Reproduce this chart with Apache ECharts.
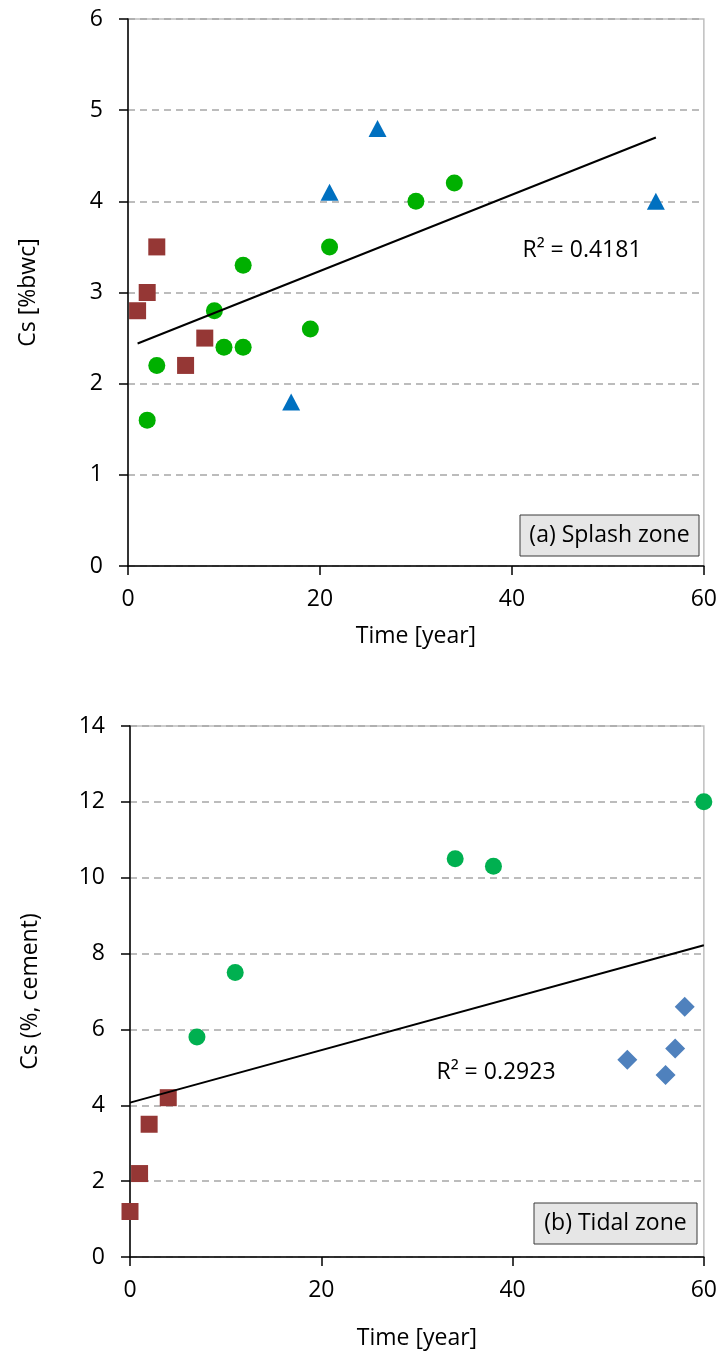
<!DOCTYPE html>
<html>
<head>
<meta charset="utf-8">
<script src="https://cdn.jsdelivr.net/npm/echarts@6/dist/echarts.min.js"></script>
<style>
html,body{margin:0;padding:0;background:#fff;}
#c{width:720px;height:1356px;}
</style>
</head>
<body>
<div id="c"></div>
<script>
// ---- Data: (a) Splash zone ----
const splashSquareX = [1, 2, 3, 6, 8];
const splashSquareY = [2.8, 3.0, 3.5, 2.2, 2.5];
const splashCircleX = [2, 3, 9, 10, 12, 12, 19, 21, 30, 34];
const splashCircleY = [1.6, 2.2, 2.8, 2.4, 2.4, 3.3, 2.6, 3.5, 4.0, 4.2];
const splashTriX = [17, 21, 26, 55];
const splashTriY = [1.8, 4.1, 4.8, 4.0];
const splashTrendX = [1, 55];
const splashTrendY = [2.44, 4.70];
const splashR2 = 'R² = 0.4181';

// ---- Data: (b) Tidal zone ----
const tidalSquareX = [0, 1, 2, 4];
const tidalSquareY = [1.2, 2.2, 3.5, 4.2];
const tidalCircleX = [7, 11, 34, 38, 60];
const tidalCircleY = [5.8, 7.5, 10.5, 10.3, 12.0];
const tidalDiamondX = [52, 56, 57, 58];
const tidalDiamondY = [5.2, 4.8, 5.5, 6.6];
const tidalTrendX = [0, 60];
const tidalTrendY = [4.07, 8.22];
const tidalR2 = 'R² = 0.2923';

const zip = (xs, ys) => xs.map((x, i) => [x, ys[i]]);
const FONT = '"Open Sans", "Noto Sans", sans-serif';
const FS = 23;

function xAxisCfg(gridIndex, nameGap) {
  return {
    gridIndex, type: 'value', min: 0, max: 60, interval: 20,
    name: 'Time [year]', nameLocation: 'middle', nameGap,
    nameTextStyle: {fontFamily: FONT, fontSize: FS, color: '#000'},
    axisLine: {show: true, onZero: false, lineStyle: {color: '#000', width: 1.5}},
    axisTick: {show: true, length: 9, lineStyle: {color: '#000', width: 1.5}},
    axisLabel: {fontFamily: FONT, fontSize: FS, color: '#000', margin: 22},
    splitLine: {show: false}
  };
}
function yAxisCfg(gridIndex, name, max, interval) {
  return {
    gridIndex, type: 'value', min: 0, max, interval,
    name, nameLocation: 'middle', nameGap: 88, nameRotate: 90,
    nameTextStyle: {fontFamily: FONT, fontSize: FS, color: '#000'},
    axisLine: {show: true, lineStyle: {color: '#000', width: 1.5}},
    axisTick: {show: true, length: 9, lineStyle: {color: '#000', width: 1.5}},
    axisLabel: {fontFamily: FONT, fontSize: FS, color: '#000', margin: 25},
    splitLine: {show: true, lineStyle: {color: '#A6A6A6', width: 1.5, type: [7, 5]}}
  };
}
function scatter(xi, data, symbol, size, color) {
  return {type: 'scatter', xAxisIndex: xi, yAxisIndex: xi, data, symbol, symbolSize: size,
    itemStyle: {color, opacity: 1}, clip: false, z: 3, silent: true};
}
function trend(xi, data) {
  return {type: 'line', xAxisIndex: xi, yAxisIndex: xi, data, showSymbol: false, symbol: 'none',
    lineStyle: {color: '#000', width: 2}, z: 4, silent: true, animation: false};
}
function labelBox(x, y, w, h, text) {
  return {
    type: 'group', children: [
      {type: 'rect', shape: {x, y, width: w, height: h},
        style: {fill: '#E6E6E6', stroke: '#3A3A3A', lineWidth: 1}},
      {type: 'text', x: x + w / 2, y: y + h / 2,
        style: {text, fontFamily: FONT, fontSize: FS, fill: '#000', align: 'center', verticalAlign: 'middle'}}
    ]
  };
}

const chart = echarts.init(document.getElementById('c'), null, {renderer: 'canvas'});
chart.setOption({
  animation: false,
  backgroundColor: '#fff',
  grid: [
    {left: 128, top: 19, width: 577, height: 547, show: true, borderColor: '#BFBFBF', borderWidth: 1.5, backgroundColor: 'transparent'},
    {left: 130, top: 726, width: 575, height: 531, show: true, borderColor: '#BFBFBF', borderWidth: 1.5, backgroundColor: 'transparent'}
  ],
  xAxis: [xAxisCfg(0, 59), xAxisCfg(1, 70)],
  yAxis: [yAxisCfg(0, 'Cs [%bwc]', 6, 1), yAxisCfg(1, 'Cs (%, cement)', 14, 2)],
  series: [
    scatter(0, zip(splashSquareX, splashSquareY), 'rect', 17, '#953735'),
    scatter(0, zip(splashCircleX, splashCircleY), 'circle', 17, '#00B000'),
    scatter(0, zip(splashTriX, splashTriY), 'triangle', [18, 17], '#0070C0'),
    trend(0, zip(splashTrendX, splashTrendY)),
    scatter(1, zip(tidalSquareX, tidalSquareY), 'rect', 17, '#953735'),
    scatter(1, zip(tidalCircleX, tidalCircleY), 'circle', 17, '#00B050'),
    scatter(1, zip(tidalDiamondX, tidalDiamondY), 'diamond', 20, '#4F81BD'),
    trend(1, zip(tidalTrendX, tidalTrendY))
  ],
  graphic: [
    {type: 'text', x: 582, y: 250, style: {text: splashR2, fontFamily: FONT, fontSize: FS, fill: '#000', align: 'center', verticalAlign: 'middle'}},
    {type: 'text', x: 496, y: 1072, style: {text: tidalR2, fontFamily: FONT, fontSize: FS, fill: '#000', align: 'center', verticalAlign: 'middle'}},
    labelBox(520, 515, 179, 41, '(a) Splash zone'),
    labelBox(534, 1203, 163, 41, '(b) Tidal zone')
  ]
});
</script>
</body>
</html>
